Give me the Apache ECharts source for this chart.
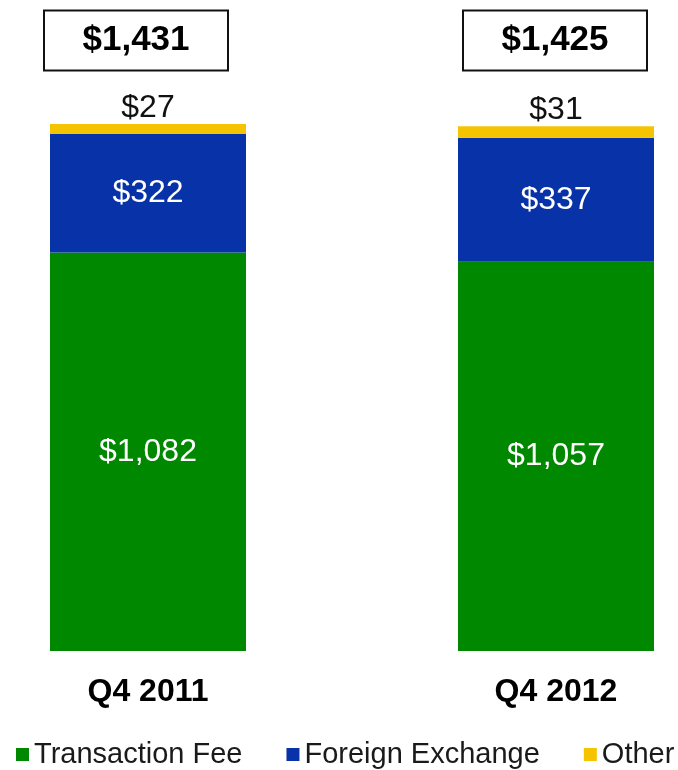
<!DOCTYPE html>
<html>
<head>
<meta charset="utf-8">
<script src="https://cdn.jsdelivr.net/npm/echarts@6/dist/echarts.min.js"></script>
<style>
  html, body { margin: 0; padding: 0; background: #fff; }
  #chart { width: 678px; height: 770px; }
</style>
</head>
<body>
<div id="chart"></div>
<script>
// Quarterly revenue by type ($ millions)
const quarters = ['Q4 2011', 'Q4 2012'];
const transactionFee = [1082, 1057];
const foreignExchange = [322, 337];
const other = [27, 31];
const seriesNames = ['Transaction Fee', 'Foreign Exchange', 'Other'];

// Totals shown in the boxes above each column
const totals = quarters.map((_, i) => transactionFee[i] + foreignExchange[i] + other[i]);

// Layout: value level where the total boxes sit, and their sideways shift
const TOTAL_ROW = 1658;
const BOX_SHIFT = [-12, -1];

const FONT = '"Liberation Sans", Arial, Helvetica, sans-serif';
const money = v => '$' + Number(v).toLocaleString('en-US');

const chart = echarts.init(document.getElementById('chart'));

chart.setOption({
  animation: false,
  textStyle: { fontFamily: FONT },
  grid: { left: 148, right: 122, top: 25, bottom: 119 },
  legend: {
    data: seriesNames,
    left: 11,
    top: 735,
    width: 667,
    icon: 'rect',
    itemWidth: 13,
    itemHeight: 13,
    itemGap: 44,
    textStyle: { fontFamily: FONT, fontSize: 29, color: '#1a1a1a' }
  },
  xAxis: {
    type: 'category',
    data: quarters,
    boundaryGap: false,
    axisLine: { show: false },
    axisTick: { show: false },
    axisLabel: {
      margin: 25,
      fontFamily: FONT,
      fontSize: 32,
      fontWeight: 'bold',
      color: '#000'
    }
  },
  yAxis: {
    type: 'value',
    min: 0,
    max: 1700,
    show: false,
    splitLine: { show: false }
  },
  series: [
    {
      name: seriesNames[0],
      type: 'bar',
      stack: 'rev',
      clip: false,
      barWidth: 196,
      data: transactionFee,
      itemStyle: { color: '#008800' },
      label: {
        show: true,
        position: 'inside',
        formatter: p => money(p.value),
        fontFamily: FONT,
        fontSize: 32,
        color: '#fff'
      }
    },
    {
      name: seriesNames[1],
      type: 'bar',
      stack: 'rev',
      clip: false,
      barWidth: 196,
      data: foreignExchange,
      itemStyle: { color: '#0833a8' },
      label: {
        show: true,
        position: 'inside',
        formatter: p => money(p.value),
        fontFamily: FONT,
        fontSize: 32,
        color: '#fff'
      }
    },
    {
      name: seriesNames[2],
      type: 'bar',
      stack: 'rev',
      clip: false,
      barWidth: 196,
      data: other,
      itemStyle: { color: '#f6c300' },
      label: {
        show: true,
        position: 'top',
        distance: 0,
        formatter: p => money(p.value),
        fontFamily: FONT,
        fontSize: 32,
        color: '#111'
      }
    },
    {
      // Boxed totals: a tiny transparent point per column carrying a bordered label
      name: 'Total',
      type: 'scatter',
      clip: false,
      silent: true,
      symbol: 'rect',
      symbolSize: 1,
      data: totals.map((t, i) => ({
        value: [i, TOTAL_ROW],
        total: t,
        label: { offset: [BOX_SHIFT[i], 0] }
      })),
      itemStyle: { color: 'rgba(0,0,0,0)', opacity: 1 },
      label: {
        show: true,
        position: 'inside',
        formatter: p => money(p.data.total),
        fontFamily: FONT,
        fontSize: 35,
        fontWeight: 'bold',
        color: '#000',
        width: 182,
        height: 58,
        lineHeight: 58,
        align: 'center',
        verticalAlign: 'middle',
        backgroundColor: '#fff',
        borderColor: '#111',
        borderWidth: 2,
        padding: 0
      }
    }
  ]
});
</script>
</body>
</html>
